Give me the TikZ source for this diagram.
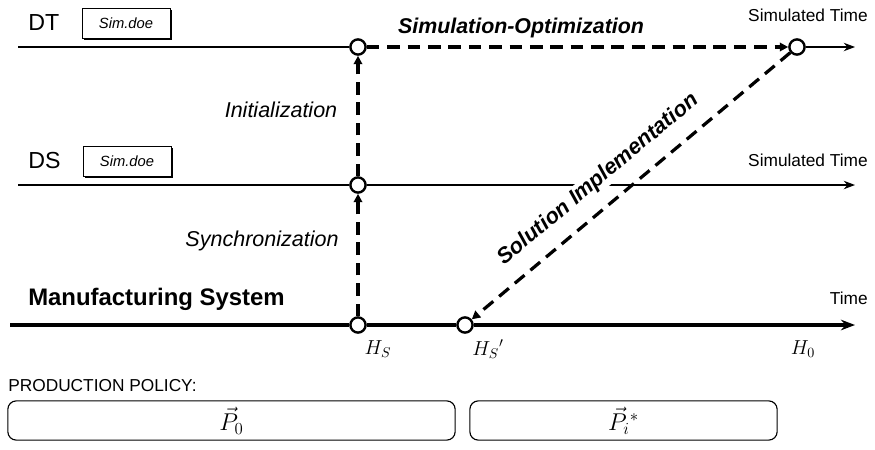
\documentclass[tikz,border=0pt]{standalone}
\usepackage{amsmath}
\usepackage{fix-cm}
\usepackage{fontspec}
\setmainfont{Liberation Sans}
\usetikzlibrary{arrows.meta,shadows}

\tikzset{
  event/.style={circle, draw, fill=white, line width=1.7pt, inner sep=0pt, minimum size=0.38cm},
  simbox/.style={draw, fill=white, font=\fontsize{10.5}{12}\selectfont\itshape, minimum width=2.2cm, minimum height=0.75cm,
    drop shadow={fill=black, opacity=1, shadow xshift=1.4pt, shadow yshift=-1.4pt}},
  flow/.style={line width=2.3pt, dash pattern=on 9pt off 5.5pt, -{Triangle[length=6pt,width=6pt]}},
  axis/.style={line width=0.9pt},
  policy/.style={draw, line width=0.8pt, rounded corners=6pt, minimum height=0.98cm}
}

\begin{document}
\begin{tikzpicture}[x=0.025cm, y=-0.025cm]
  \useasboundingbox (0,0) rectangle (875,449);

  % Ereignisse
  \node[event] (dt1) at (358,47) {};
  \node[event] (dt2) at (797,47) {};
  \node[event] (ds1) at (358,185) {};
  \node[event] (ms1) at (358,325) {};
  \node[event] (ms2) at (465,325) {};

  % Zeitachsen
  \coordinate (dtstart) at (18,47);
  \coordinate (dtend) at (855,47);
  \coordinate (dsstart) at (18,185);
  \coordinate (dsend) at (855,185);
  \coordinate (msstart) at (10,325);
  \coordinate (msend) at (855,325);
  \draw[axis] (dtstart) -- (dt1.west);
  \draw[axis, -{Stealth[length=8pt]}] (dt2.east) -- (dtend);
  \draw[axis] (dsstart) -- (ds1.west);
  \draw[axis, -{Stealth[length=8pt]}] (ds1.east) -- (dsend);
  \draw[line width=2.5pt] (msstart) -- (ms1.west);
  \draw[line width=2.5pt] (ms1.east) -- (ms2.west);
  \draw[line width=2.5pt, -{Stealth[length=10pt]}] (ms2.east) -- (msend);

  % Beschriftungen
  \node[anchor=west, inner sep=0pt] (dt) at (28,23) {\fontsize{16.5}{19}\selectfont DT};
  \node[simbox] (dtsim) at (126,23) {Sim.doe};
  \node[anchor=west, inner sep=0pt] (ds) at (28,161) {\fontsize{16.5}{19}\selectfont DS};
  \node[simbox] (dssim) at (127,161) {Sim.doe};
  \node[anchor=west, inner sep=0pt] (ms) at (28,299) {\fontsize{17}{20}\selectfont\bfseries Manufacturing System};
  \node[anchor=east, inner sep=0pt] (dtlab) at (868,15) {\fontsize{12.3}{14}\selectfont Simulated Time};
  \node[anchor=east, inner sep=0pt] (dslab) at (868,160) {\fontsize{12.3}{14}\selectfont Simulated Time};
  \node[anchor=east, inner sep=0pt] (mslab) at (868,298) {\fontsize{12.3}{14}\selectfont Time};
  \node (ini) at (281,110) {\fontsize{15.3}{18}\selectfont\itshape Initialization};
  \node (syn) at (262,241) {\fontsize{15.3}{18}\selectfont\itshape Synchronization};
  \node (opt) at (521,28) {\fontsize{15.2}{18}\selectfont\bfseries\itshape Simulation-Optimization};

  % Pfeile
  \draw[flow] (ms1) -- (ds1);
  \draw[flow] (ds1) -- (dt1);
  \draw[flow] (dt1) -- (dt2);
  \draw[flow] (dt2) -- node[pos=0.55, sloped, above=9pt, fill=white, inner sep=1pt, font=\fontsize{15.5}{18}\selectfont\bfseries\itshape] (sol) {Solution Implementation} (ms2);

  % Zeitpunkte
  \node (hs) at (378,349) {\Large $H_S$};
  \node (hsp) at (488,349) {\Large $H_S{}'$};
  \node (h0) at (803,349) {\Large $H_0$};

  % Politik
  \node[anchor=west, inner sep=0pt] (pol) at (8,386) {\fontsize{12.3}{14}\selectfont PRODUCTION POLICY:};
  \node[policy, minimum width=11.18cm] (p0) at (231.5,420.5) {\LARGE $\vec{P}_0$};
  \node[policy, minimum width=7.68cm] (pi) at (623.5,420.5) {\LARGE $\vec{P}_i{}^{*}$};
\end{tikzpicture}
\end{document}
